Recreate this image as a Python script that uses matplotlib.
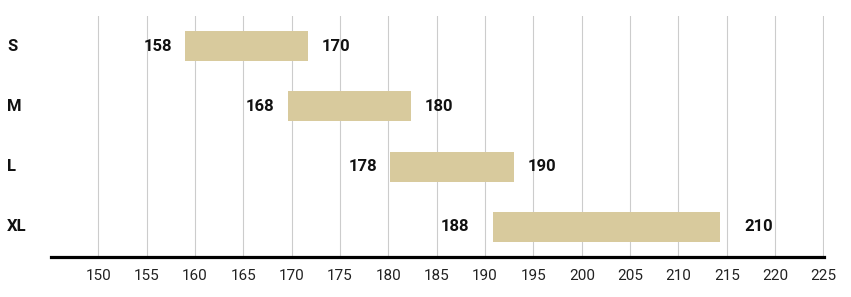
import numpy as np
import matplotlib
matplotlib.use('Agg')
import matplotlib.pyplot as plt
from matplotlib.transforms import blended_transform_factory

# Size ranges (height in cm) per frame size
sizes = ["S", "M", "L", "XL"]
low = [158, 168, 178, 188]
high = [170, 180, 190, 210]
tick_labels = [str(v) for v in range(150, 230, 5)]

BAR_COLOR = "#d8ca9d"
plt.rcParams['font.family'] = ['Liberation Sans Narrow', 'Roboto', 'DejaVu Sans']

fig = plt.figure(figsize=(8.51, 2.97), dpi=100)
W, H = 851, 297
ax = fig.add_axes([51 / W, 1 - 257 / H, (824 - 51) / W, (257 - 16) / H])

y = np.arange(len(sizes))
widths = [h - l for l, h in zip(low, high)]
ax.barh(y, widths, left=low, height=0.5, color=BAR_COLOR, zorder=2)

# label gap grows with the bar length, like in the original
for yi, l, h, w in zip(y, low, high, widths):
    gap = 0.105 * w
    ax.text(l - gap, yi, str(l), ha='right', va='center',
            fontsize=12, fontweight='bold', color='#111111')
    ax.text(h + gap + 0.1, yi, str(h), ha='left', va='center',
            fontsize=12, fontweight='bold', color='#111111')

# category labels at the far left of the figure
trans = blended_transform_factory(fig.transFigure, ax.transData)
for yi, s in zip(y, sizes):
    ax.text(7 / W, yi, s, transform=trans, ha='left', va='center',
            fontsize=12, fontweight='bold', color='#111111')

ax.set_xlim(145.0, 220.15)
ax.set_ylim(3.5, -0.5)
ticks = np.linspace(149.6, 220.1, len(tick_labels))
ax.set_xticks(ticks)
ax.set_xticklabels(tick_labels, fontsize=11, color='#222222')
ax.tick_params(axis='x', length=0, pad=9)
ax.set_yticks([])
ax.grid(axis='x', color='#cccccc', linewidth=0.8, zorder=0)
ax.set_axisbelow(True)

for side in ['top', 'right', 'left']:
    ax.spines[side].set_visible(False)
ax.spines['bottom'].set_linewidth(2.3)
ax.spines['bottom'].set_color('black')
ax.spines['bottom'].set_zorder(3)

fig.savefig("out.png", dpi=100)
